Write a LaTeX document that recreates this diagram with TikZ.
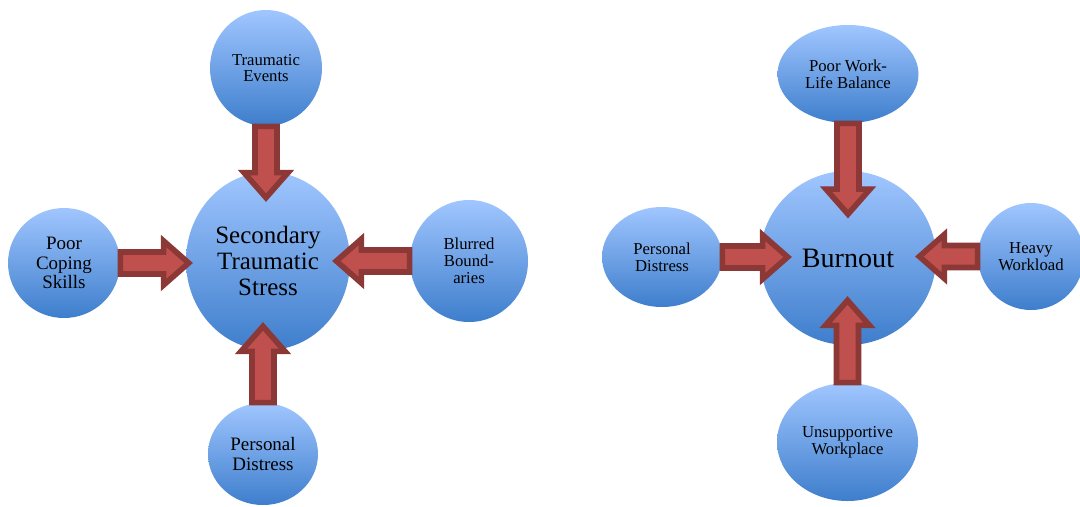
\documentclass[tikz,border=0pt]{standalone}
\usepackage{fontspec}
\setmainfont{Liberation Serif}
\usetikzlibrary{shapes.geometric,calc}
\definecolor{balltop}{RGB}{160,198,255}
\definecolor{ballbot}{RGB}{62,126,204}
\definecolor{arrowfill}{RGB}{192,80,77}
\definecolor{arrowline}{RGB}{140,56,54}
\tikzset{
  ball/.style={ellipse,inner sep=0pt,align=center,top color=balltop,bottom color=ballbot},
  big/.style={font=\fontsize{14.2}{14.6}\selectfont},
  mid/.style={font=\fontsize{10.8}{11.3}\selectfont},
  small/.style={font=\fontsize{9.5}{9.6}\selectfont},
  fat/.style={fill=arrowfill,draw=arrowline,line width=3.2pt,line join=miter,
    to path={let \p1=(\tikztostart),\p2=(\tikztotarget),\p3=($(\p2)!0.5cm!(\p1)$) in
      ($(\p1)!0.22cm!90:(\p2)$) -- ($(\p3)!0.22cm!90:(\p2)$) -- ($(\p3)!0.44cm!90:(\p2)$) -- (\p2)
      -- ($(\p3)!0.44cm!-90:(\p2)$) -- ($(\p3)!0.22cm!-90:(\p2)$) -- ($(\p1)!0.22cm!-90:(\p2)$) -- cycle}}
}
\begin{document}
\begin{tikzpicture}
\useasboundingbox (0,0) rectangle (21.6,10.12);
% secondary traumatic stress
\node[ball,big,minimum width=3.28cm,minimum height=3.56cm] (sts) at (5.36,4.90) {Secondary\\Traumatic\\Stress};
\node[ball,small,minimum width=2.24cm,minimum height=2.32cm] (te) at (5.32,8.76) {Traumatic\\Events};
\node[ball,mid,minimum width=2.24cm,minimum height=2.20cm] (pcs) at (1.28,4.86) {Poor\\Coping\\Skills};
\node[ball,small,minimum width=2.36cm,minimum height=2.44cm] (bb) at (9.38,4.90) {Blurred\\Bound-\\aries};
\node[ball,mid,minimum width=2.20cm,minimum height=2.04cm] (pd1) at (5.26,1.04) {Personal\\Distress};
\draw[fat] (te.south) to ($(sts.north -| te.south)+(0,-0.52)$);
\draw[fat] (pcs.east) to ($(sts.west |- pcs.east)+(0.06,0)$);
\draw[fat] (bb.west) to ($(sts.east |- bb.west)+(-0.28,0)$);
\draw[fat] (pd1.north) to ($(sts.south -| pd1.north)+(0,0.48)$);
% burnout
\node[ball,font=\fontsize{16}{16}\selectfont,minimum width=3.52cm,minimum height=3.48cm] (bo) at (16.96,4.96) {Burnout};
\node[ball,small,minimum width=2.82cm,minimum height=1.96cm] (pwl) at (16.96,8.64) {Poor Work-\\Life Balance};
\node[ball,small,minimum width=2.40cm,minimum height=2.00cm] (pd2) at (13.24,4.98) {Personal\\Distress};
\node[ball,small,minimum width=2.12cm,minimum height=2.14cm] (hw) at (20.62,4.99) {Heavy\\Workload};
\node[ball,small,minimum width=2.82cm,minimum height=2.36cm] (uw) at (16.95,1.28) {Unsupportive\\Workplace};
\draw[fat] (pwl.south) to ($(bo.north)+(0,-0.87)$);
\draw[fat] (pd2.east) to ($(bo.west |- pd2.east)+(0.56,0)$);
\draw[fat] (hw.west) to ($(bo.east |- hw.west)+(-0.34,0)$);
\draw[fat] (uw.north) to ($(bo.south -| uw.north)+(0,0.90)$);
\end{tikzpicture}
\end{document}
